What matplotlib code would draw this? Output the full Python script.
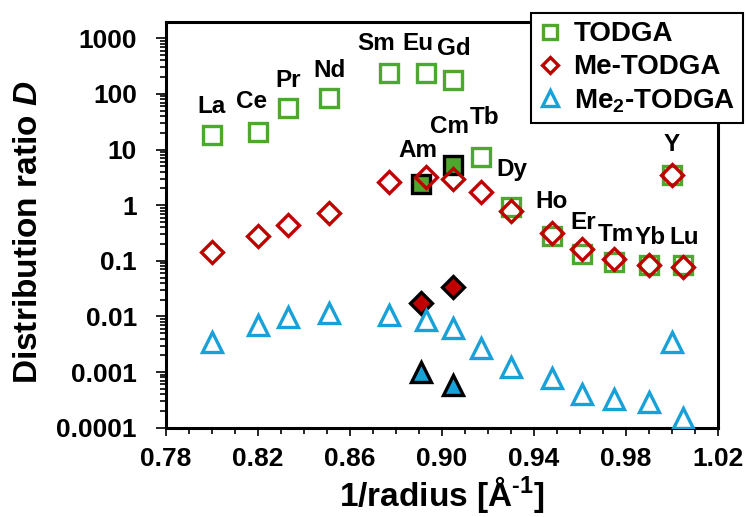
import numpy as np
import matplotlib
matplotlib.use('Agg')
import matplotlib.pyplot as plt
from matplotlib.ticker import FixedLocator, FuncFormatter, NullFormatter
from matplotlib.lines import Line2D

plt.rcParams['font.family'] = ['Liberation Sans', 'DejaVu Sans']
plt.rcParams['font.weight'] = 'bold'
plt.rcParams['mathtext.fontset'] = 'custom'
plt.rcParams['mathtext.rm'] = 'Liberation Sans:bold'
plt.rcParams['mathtext.bf'] = 'Liberation Sans:bold'
plt.rcParams['mathtext.it'] = 'Liberation Sans:bold:italic'

# lanthanides + Y (1/radius, D values)
elements = ['La', 'Ce', 'Pr', 'Nd', 'Sm', 'Eu', 'Gd', 'Tb', 'Dy', 'Ho', 'Er', 'Tm', 'Yb', 'Lu', 'Y']
inv_radius = [0.800, 0.820, 0.833, 0.851, 0.877, 0.893, 0.905, 0.917, 0.930, 0.948, 0.961, 0.975, 0.990, 1.005, 1.000]
d_todga = [18.3, 20.9, 55, 83, 235, 235, 178, 7.3, 0.94, 0.283, 0.133, 0.096, 0.084, 0.084, 3.5]
d_me_todga = [0.146, 0.279, 0.44, 0.714, 2.64, 3.25, 2.96, 1.75, 0.79, 0.313, 0.163, 0.108, 0.084, 0.078, 3.5]
d_me2_todga = [0.00343, 0.00694, 0.0098, 0.0115, 0.0106, 0.00875, 0.0062, 0.00273, 0.00122,
               0.00079, 0.00041, 0.000326, 0.000288, 0.00015, 0.0035]

# actinides Am, Cm
actinides = ['Am', 'Cm']
inv_radius_an = [0.891, 0.905]
d_todga_an = [2.4, 5.3]
d_me_todga_an = [0.0172, 0.0343]
d_me2_todga_an = [0.00100, 0.00059]

green = '#4EA82F'
red = '#C00000'
blue = '#18A0D8'

fig = plt.figure(figsize=(7.47, 5.17), dpi=100)
ax = fig.add_axes([166 / 747, 1 - 427.7 / 517, 551.5 / 747, 405.4 / 517])

ax.plot(inv_radius, d_todga, 's', ms=13.5, mew=2.4, mfc='none', mec=green, zorder=3)
ax.plot(inv_radius_an, d_todga_an, 's', ms=13.5, mew=2.4, mfc=green, mec='black', zorder=3)
ax.plot(inv_radius, d_me_todga, 'D', ms=11.5, mew=2.4, mfc='none', mec=red, zorder=4)
ax.plot(inv_radius_an, d_me_todga_an, 'D', ms=11.5, mew=2.4, mfc=red, mec='black', zorder=4)
ax.plot(inv_radius, d_me2_todga, '^', ms=14, mew=2.4, mfc='none', mec=blue, zorder=5)
ax.plot(inv_radius_an, d_me2_todga_an, '^', ms=14, mew=2.4, mfc=blue, mec='black', zorder=5)

# label offsets in pixels (dx, dy) relative to TODGA markers
label_offsets = [(0, 28), (-6, 30), (0, 28), (0, 28), (-13, 30), (-8, 30), (1, 32), (4, 40),
                 (1, 37), (0, 34), (1, 31), (2, 27), (2, 28), (1, 28), (0, 30)]
an_offsets = [(-3, 34), (-4, 38)]
for name, x, y, off in zip(elements, inv_radius, d_todga, label_offsets):
    ax.annotate(name, (x, y), xytext=off, textcoords='offset pixels',
                ha='center', va='center', fontsize=17.5, fontweight='bold', zorder=6)
for name, x, y, off in zip(actinides, inv_radius_an, d_todga_an, an_offsets):
    ax.annotate(name, (x, y), xytext=off, textcoords='offset pixels',
                ha='center', va='center', fontsize=17.5, fontweight='bold', zorder=6)

ax.set_yscale('log')
ax.set_xlim(0.78, 1.02)
ax.set_ylim(1e-4, 1940)

ax.xaxis.set_major_locator(FixedLocator(np.arange(0.78, 1.0201, 0.04)))
ax.xaxis.set_minor_locator(FixedLocator(np.arange(0.78, 1.0201, 0.01)))
ax.xaxis.set_major_formatter(FuncFormatter(lambda v, p: f'{v:.2f}'))

decades = 10.0 ** np.arange(-4, 4)
ax.yaxis.set_major_locator(FixedLocator(decades))
ax.yaxis.set_minor_locator(FixedLocator([d * k for d in decades[:-1] for k in range(2, 10)]))
ax.yaxis.set_major_formatter(FuncFormatter(lambda v, p: f'{v:g}'))
ax.yaxis.set_minor_formatter(NullFormatter())

for s in ax.spines.values():
    s.set_linewidth(2.2)

ax.tick_params(axis='both', which='major', labelsize=19, width=1.2, direction='out')
ax.tick_params(axis='x', which='major', length=6, pad=8)
ax.tick_params(axis='x', which='minor', length=4, width=1.2, direction='out')
ax.tick_params(axis='y', which='major', length=7, pad=14)
ax.tick_params(axis='y', which='minor', length=4.5, width=1.2, direction='out')
for lab in ax.get_xticklabels() + ax.get_yticklabels():
    lab.set_fontweight('bold')

ax.set_xlabel('1/radius [Å$^{\u2010 1}$]', fontsize=24, fontweight='bold', labelpad=2)
ax.set_ylabel('Distribution ratio $\\mathit{D}$', fontsize=24, fontweight='bold', va='center')
ax.yaxis.set_label_coords(-0.25, 0.483)

handles = [
    Line2D([], [], ls='none', marker='s', ms=10, mew=2.4, mfc='none', mec=green),
    Line2D([], [], ls='none', marker='D', ms=8.5, mew=2.4, mfc='none', mec=red),
    Line2D([], [], ls='none', marker='^', ms=11, mew=2.4, mfc='none', mec=blue),
]
leg = fig.legend(handles, ['TODGA', 'Me-TODGA', 'Me$_2$-TODGA'], loc='upper right',
                 bbox_to_anchor=(743 / 747, 1 - 13 / 517), fontsize=20, frameon=True,
                 fancybox=False, edgecolor='black', framealpha=1, borderpad=0.3,
                 handlelength=0.8, handletextpad=0.45, labelspacing=0.25, borderaxespad=0)
leg.get_frame().set_linewidth(1.5)
for t in leg.get_texts():
    t.set_fontweight('bold')

fig.savefig('out.png', dpi=100)
